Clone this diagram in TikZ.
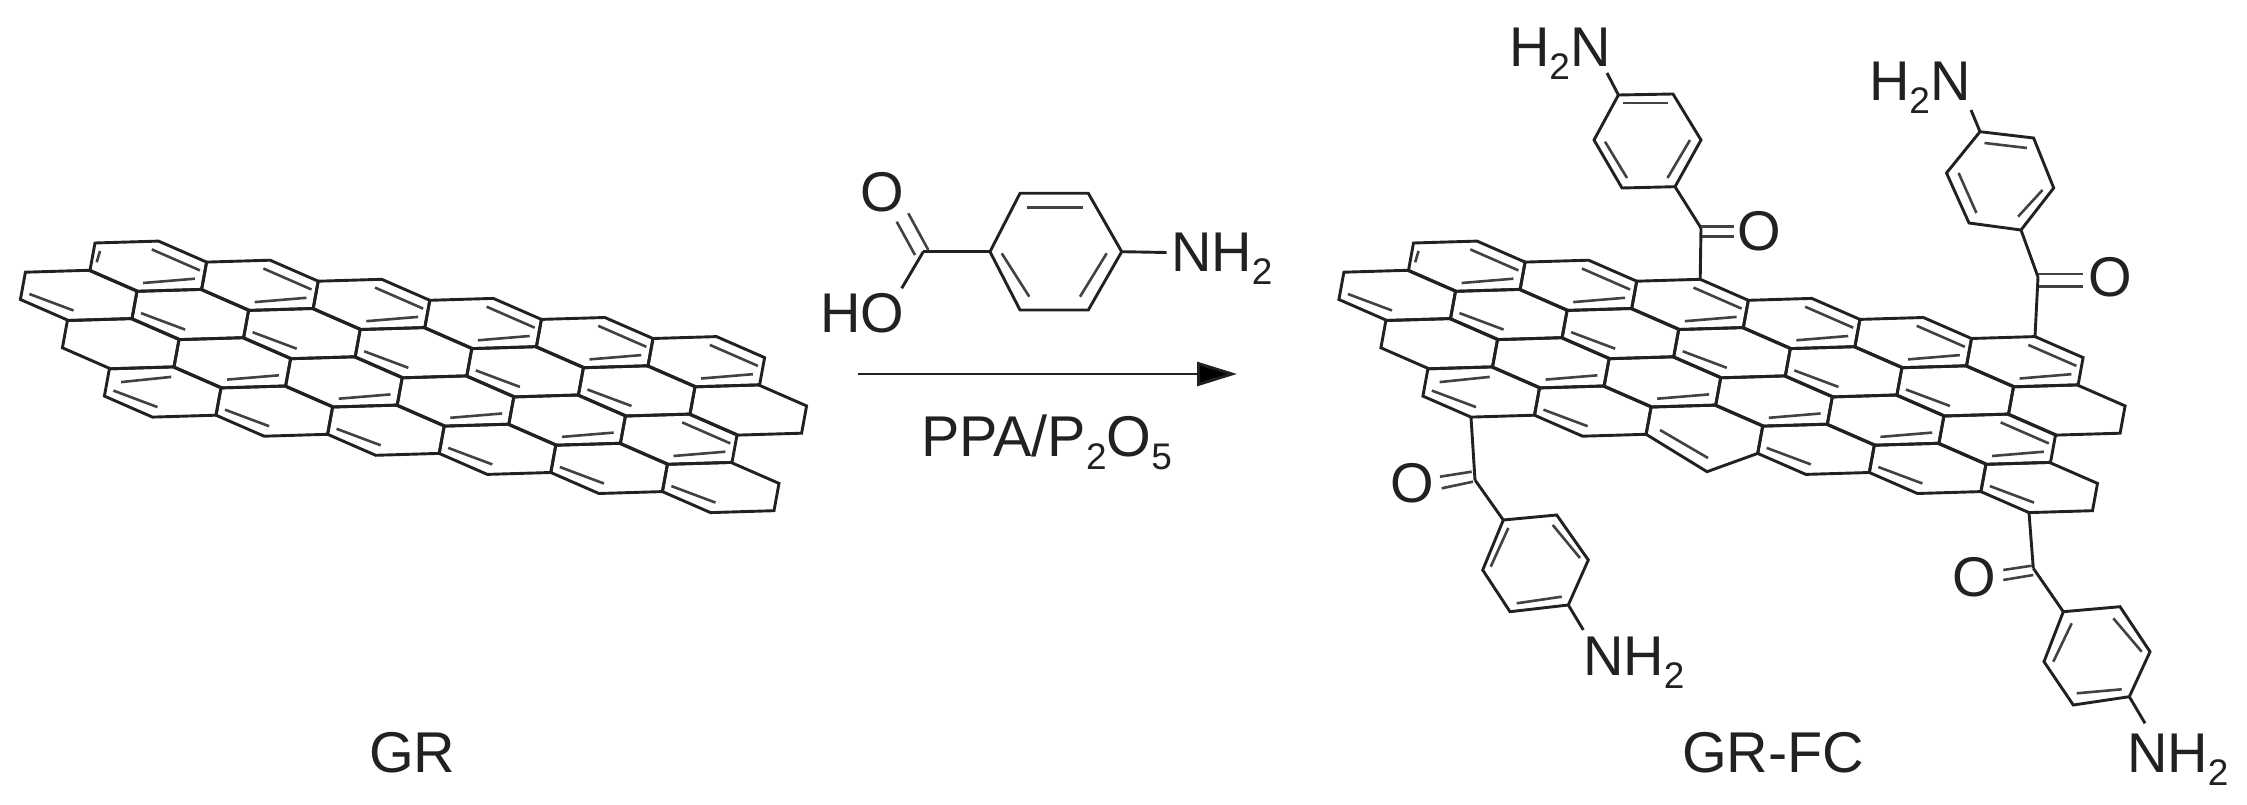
\documentclass[tikz,border=0pt]{standalone}
\usepackage{fontspec}
\setmainfont{Liberation Sans}
\usetikzlibrary{arrows.meta}
\definecolor{ink}{gray}{0.13}
\tikzset{
  bond/.style={draw=ink,line width=2.9pt,line join=miter},
  inner bond/.style={draw=ink!85,line width=2.6pt},
  chem/.style={inner sep=0pt,outer sep=0pt,text=ink,font=\fontsize{56}{60}\selectfont},
  lbl west/.style={chem,anchor=base west},
  big lbl/.style={lbl west,font=\fontsize{57.5}{60}\selectfont}
}
\newcommand\subs[1]{\raisebox{-13pt}{\fontsize{37}{37}\selectfont #1}}
% inner lines of the double bonds, relative to the corners of the current cell
\newcommand\innB{\draw[inner bond] ([shift={(-6.7,8.3)}]P1) -- ([shift={(-6.7,8.3)}]P2);}
\newcommand\innBot{\draw[inner bond] ([shift={(5,-8.3)}]P4) -- ([shift={(-6.7,-10.7)}]P3);}
\newcommand\innLL{\draw[inner bond] ([shift={(9,-5.5)}]P5) -- ([shift={(5,-10)}]P4);}
\newcommand\innTop{\draw[inner bond] ([shift={(11.7,13.3)}]P0) -- ([shift={(-1.7,10)}]P1);}
\newcommand\innLeft{\draw[inner bond] ([shift={(5,8)}]P0) -- ([shift={(6.7,-8)}]P5);}
% one hexagon of the sheet: #1 i, #2 j, #3 inner lines
\newcommand\cellcorners[2]{%
  \pgfmathsetmacro\hxa{\shx+95+111.6*#1+42*#2}%
  \pgfmathsetmacro\hya{243+19.1*#1+48.3*#2}%
  \coordinate (P0) at (\hxa,\hya);
  \coordinate (P1) at ([shift={(63.5,-1.9)}]P0);
  \coordinate (P2) at ([shift={(48.1,21)}]P1);
  \coordinate (P3) at ([shift={(-5,27.3)}]P2);
  \coordinate (P4) at ([shift={(-63.5,1.9)}]P3);
  \coordinate (P5) at ([shift={(-48.1,-21)}]P4);
  \coordinate (\shn-#1-#2-1) at (P1);
  \coordinate (\shn-#1-#2-3) at (P3);
  \coordinate (\shn-#1-#2-4) at (P4);
  \coordinate (\shn-#1-#2-5) at (P5);
}
\newcommand\hexcell[3]{%
  \cellcorners{#1}{#2}
  \draw[bond] (P0) -- (P1) -- (P2) -- (P3) -- (P4) -- (P5) -- cycle;
  #3
}
% the whole sheet, #1 x offset, #2 name prefix
\newcommand\gsheet[2]{%
  \def\shx{#1}\def\shn{#2}%
  \hexcell{0}{0}{\innB\innBot\innLeft}
  \foreach \i in {1,...,5}{\hexcell{\i}{0}{\innB\innBot}}
  \foreach \i in {-1,...,4}{\hexcell{\i}{1}{\innLL}}
  \hexcell{5}{1}{}
  \hexcell{-1}{2}{}
  \foreach \i in {0,...,3}{\hexcell{\i}{2}{\innBot}}
  \hexcell{4}{2}{\innB\innBot}
  \hexcell{-1}{3}{\innTop\innLL}
  \hexcell{0}{3}{\innLL}
  \foreach \i in {2,3,4}{\hexcell{\i}{3}{\innLL}}
}
\begin{document}
\begin{tikzpicture}[x=1pt,y=-1pt]
\useasboundingbox (0,0) rectangle (2247,805);

% ---------- GR ----------
\gsheet{0}{L}
\def\shx{0}\def\shn{L}
\hexcell{1}{3}{\innLL}
\node[big lbl] (gr) at (369,772) {GR};

% ---------- reagent ----------
\coordinate (a1) at (1020,193.3);
\coordinate (a2) at (1088.3,193.3);
\coordinate (a3) at (1121.7,251.7);
\coordinate (a4) at (1088.3,310);
\coordinate (a5) at (1020,310);
\coordinate (a6) at (990,251.7);
\draw[bond] (a1) -- (a2) -- (a3) -- (a4) -- (a5) -- (a6) -- cycle;
\draw[inner bond] (1026.7,207.3) -- (1082.7,207.3);
\draw[inner bond] (1001.7,253.3) -- (1029.3,296.7);
\draw[inner bond] (1106.7,253.3) -- (1080,296.7);
\coordinate (ac) at (923.3,251.7);
\coordinate (aNe) at (1166.7,252.5);
\coordinate (aOHe) at (901.7,288.3);
\node[lbl west] (anh) at (1171,271.7) {NH\subs{2}};
\node[lbl west] (ao) at (860,211.7) {O};
\node[lbl west] (aoh) at (820,332) {HO};
\draw[bond] (a6) -- (ac);
\draw[bond] (a3) -- (aNe);
\draw[bond] (ac) -- (aOHe);
\draw[inner bond] (915,255) -- (896.7,221.7);
\draw[inner bond] (928.3,250) -- (908.3,213.3);

% ---------- arrow ----------
\coordinate (arrS) at (858,374);
\coordinate (arrE) at (1237,374);
\draw[draw=ink,line width=2.9pt,-{Triangle[length=40pt,width=24pt,fill=black]}] (arrS) -- (arrE);
\node[big lbl] (cond) at (921,456.5) {PPA/P\subs{2}O\subs{5}};

% ---------- GR-FC sheet ----------
\gsheet{1318.5}{R}
\def\shx{1318.5}\def\shn{R}
\cellcorners{1}{3}
\coordinate (dip) at (1707,471.7);
\draw[bond] (P5) -- (P0) -- (P1) -- (P2) -- (P3) -- (dip) -- cycle;
\draw[inner bond] (1660,430) -- (1708,458);
\node[big lbl] (grfc) at (1682,772) {GR-FC};

% ---------- substituent 1 ----------
\coordinate (c1) at (1701,228);
\coordinate (b1) at (1675,186.7);
\coordinate (b2) at (1622,188);
\coordinate (b3) at (1594,140);
\coordinate (b4) at (1618.4,95);
\coordinate (b5) at (1673,94);
\coordinate (b6) at (1701,140);
\coordinate (bN) at (1607,73);
\draw[bond] (b1) -- (b2) -- (b3) -- (b4) -- (b5) -- (b6) -- cycle;
\draw[inner bond] (1623,103) -- (1667.5,103);
\draw[inner bond] (1605,141.7) -- (1627,178);
\draw[inner bond] (1690,140) -- (1667.5,178);
\draw[bond] (R-2-0-1) -- (c1);
\draw[bond] (c1) -- (b1);
\draw[bond] (b4) -- (bN);
\draw[inner bond] (1701,226.7) -- (1734,226.7);
\draw[inner bond] (1702,236.7) -- (1734,236.7);
\node[lbl west] (o1) at (1737,251) {O};
\node[lbl west] (n1) at (1509,67) {H\subs{2}N};

% ---------- substituent 2 ----------
\coordinate (c2) at (2038,277);
\coordinate (d1) at (2021,230);
\coordinate (d2) at (1969,223);
\coordinate (d3) at (1946.5,173);
\coordinate (d4) at (1980,131.7);
\coordinate (d5) at (2033.6,138);
\coordinate (d6) at (2053.7,188);
\coordinate (dN) at (1971,110);
\draw[bond] (d1) -- (d2) -- (d3) -- (d4) -- (d5) -- (d6) -- cycle;
\draw[inner bond] (1984.5,143) -- (2027,148);
\draw[inner bond] (1958.6,173) -- (1976.4,213);
\draw[inner bond] (2042.5,190) -- (2018,216.7);
\draw[bond] (R-5-0-1) -- (c2);
\draw[bond] (c2) -- (d1);
\draw[bond] (d4) -- (dN);
\draw[inner bond] (2038,274) -- (2083,274);
\draw[inner bond] (2039,286.7) -- (2083,286.7);
\node[lbl west] (o2) at (2088,297) {O};
\node[lbl west] (n2) at (1869,101) {H\subs{2}N};

% ---------- substituent 3 ----------
\coordinate (c3) at (1475,480);
\coordinate (e1) at (1503.3,520);
\coordinate (e2) at (1556.7,515);
\coordinate (e3) at (1588.3,560);
\coordinate (e4) at (1568.3,605);
\coordinate (e5) at (1510,611.7);
\coordinate (e6) at (1482.7,570);
\coordinate (eN) at (1583.3,630);
\draw[bond] (e1) -- (e2) -- (e3) -- (e4) -- (e5) -- (e6) -- cycle;
\draw[inner bond] (1508.3,528) -- (1490.7,566.7);
\draw[inner bond] (1552.7,525) -- (1580,558);
\draw[inner bond] (1516.7,603.3) -- (1561.7,596.7);
\draw[bond] (R--1-3-4) -- (c3);
\draw[bond] (c3) -- (e1);
\draw[bond] (e4) -- (eN);
\draw[inner bond] (1440,476.7) -- (1471.7,471.7);
\draw[inner bond] (1441.7,488.3) -- (1473,481.7);
\node[lbl west] (o3) at (1390,502) {O};
\node[lbl west] (n3) at (1583,675) {NH\subs{2}};

% ---------- substituent 4 ----------
\coordinate (c4) at (2033.3,568.3);
\coordinate (f1) at (2063.3,611.7);
\coordinate (f2) at (2120,606.7);
\coordinate (f3) at (2150,651.7);
\coordinate (f4) at (2129.3,696.7);
\coordinate (f5) at (2073.3,705);
\coordinate (f6) at (2044,661.7);
\coordinate (fN) at (2145,723.3);
\draw[bond] (f1) -- (f2) -- (f3) -- (f4) -- (f5) -- (f6) -- cycle;
\draw[inner bond] (2071.7,623.3) -- (2053.3,661.7);
\draw[inner bond] (2113.3,618.3) -- (2141.7,651.7);
\draw[inner bond] (2076.7,693.3) -- (2121.7,689.3);
\draw[bond] (R-4-3-4) -- (c4);
\draw[bond] (c4) -- (f1);
\draw[bond] (f4) -- (fN);
\draw[inner bond] (2003.3,570) -- (2031.7,565.7);
\draw[inner bond] (2003.3,580) -- (2033.3,575);
\node[lbl west] (o4) at (1952,596) {O};
\node[lbl west] (n4) at (2127,772) {NH\subs{2}};
\end{tikzpicture}
\end{document}
